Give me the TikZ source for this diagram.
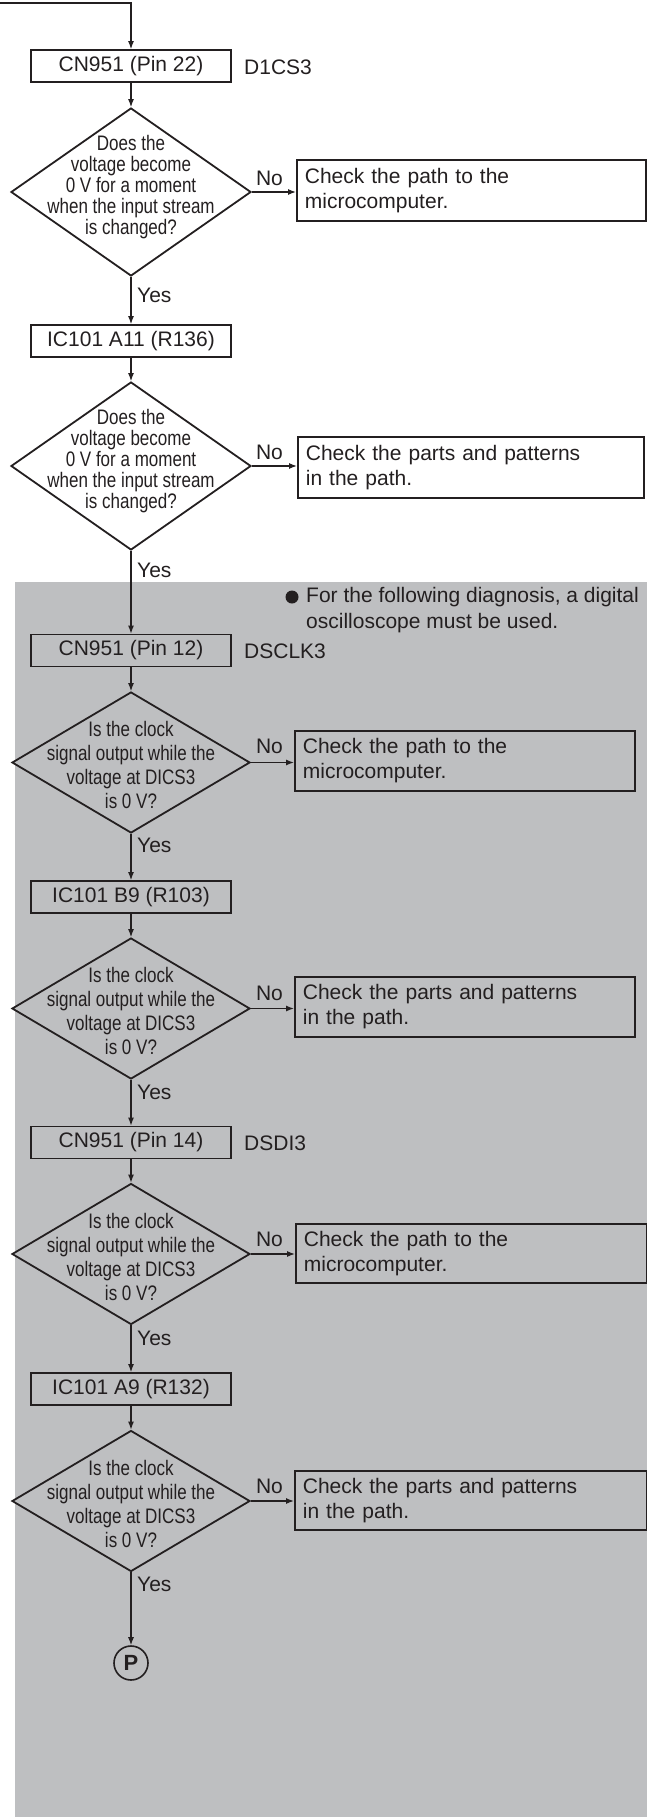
\documentclass[tikz,border=0pt]{standalone}
\usepackage{fontspec}
\setmainfont{Liberation Sans}
\newfontfamily\cond[FakeStretch=0.81]{Liberation Sans}
\usetikzlibrary{shapes.geometric,arrows.meta}
\definecolor{panel}{RGB}{190,191,193}
\definecolor{ink}{RGB}{35,31,32}
\begin{document}
\begin{tikzpicture}[x=1pt,y=-1pt,
  every node/.style={text=ink, font=\fontsize{21}{25}\selectfont},
  stepbox/.style={draw=ink, line width=1.8pt, minimum width=200pt, minimum height=32pt, inner sep=0pt},
  decision/.style={draw=ink, line width=1.8pt, diamond, inner sep=0pt, minimum width=240pt, minimum height=168pt},
  decisionb/.style={decision, minimum width=238pt, minimum height=141pt},
  qtext/.style={font=\cond\fontsize{21}{21}\selectfont, align=center, inner sep=0pt},
  qtextb/.style={font=\cond\fontsize{21}{24}\selectfont, align=center, inner sep=0pt},
  result/.style={draw=ink, line width=1.8pt, anchor=west, align=left, inner xsep=8pt, inner ysep=0pt},
  conn/.style={draw=ink, line width=1.2pt, -{Latex[length=8pt,width=6pt]}},
  lbl/.style={inner sep=0pt},
  sig/.style={inner sep=0pt, anchor=west}
]
\useasboundingbox (0,0) rectangle (647,1817);
\fill[panel] (14.5,582) rectangle (647,1817);

% first block
\coordinate (start) at (0,3);
\node[stepbox] (b1) at (131,66) {CN951 (Pin 22)};
\node[sig] (s1) at (244,67) {D1CS3};
\node[decision] (d1) at (131,192) {};
\node[qtext] (q1) at (131,187) {Does the\\voltage become\\0 V for a moment\\when the input stream\\is changed?};
\node[result, text width=333pt, minimum height=61pt] (r1) at (296,190.5) {Check the path to the\\microcomputer.};
\node[lbl] (n1) at (269.5,178) {No};
\node[lbl, anchor=west] (y1) at (137,295) {Yes};

\node[stepbox] (b2) at (131,341) {IC101 A11 (R136)};
\node[decision] (d2) at (131,466) {};
\node[qtext] (q2) at (131,461) {Does the\\voltage become\\0 V for a moment\\when the input stream\\is changed?};
\node[result, text width=330pt, minimum height=61pt] (r2) at (297,467.5) {Check the parts and patterns\\in the path.};
\node[lbl] (n2) at (269.5,452) {No};
\node[lbl, anchor=west] (y2) at (137,570) {Yes};

% gray block
\fill[ink] (292,597) circle (6.5);
\node[inner sep=0pt, anchor=west, align=left, font=\fontsize{21}{26}\selectfont] (note) at (306,610) {For the following diagnosis, a digital\\oscilloscope must be used.};

\node[stepbox] (b3) at (131,650.5) {CN951 (Pin 12)};
\node[sig] (s3) at (244,651) {DSCLK3};
\node[decisionb] (d3) at (131,762.5) {};
\node[qtextb] (q3) at (131,765) {Is the clock\\signal output while the\\voltage at DICS3\\is 0 V?};
\node[result, text width=324pt, minimum height=60pt] (r3) at (294,761) {Check the path to the\\microcomputer.};
\node[lbl] (n3) at (269.5,746) {No};
\node[lbl, anchor=west] (y3) at (137,845) {Yes};

\node[stepbox] (b4) at (131,897) {IC101 B9 (R103)};
\node[decisionb] (d4) at (131,1008.5) {};
\node[qtextb] (q4) at (131,1011) {Is the clock\\signal output while the\\voltage at DICS3\\is 0 V?};
\node[result, text width=324pt, minimum height=60pt] (r4) at (294,1007) {Check the parts and patterns\\in the path.};
\node[lbl] (n4) at (269.5,993) {No};
\node[lbl, anchor=west] (y4) at (137,1092) {Yes};

\node[stepbox] (b5) at (131,1142.5) {CN951 (Pin 14)};
\node[sig] (s5) at (244,1143) {DSDI3};
\node[decisionb] (d5) at (131,1254) {};
\node[qtextb] (q5) at (131,1256.5) {Is the clock\\signal output while the\\voltage at DICS3\\is 0 V?};
\node[result, text width=335pt, minimum height=59pt] (r5) at (295,1253.5) {Check the path to the\\microcomputer.};
\node[lbl] (n5) at (269.5,1239) {No};
\node[lbl, anchor=west] (y5) at (137,1338) {Yes};

\node[stepbox] (b6) at (131,1389) {IC101 A9 (R132)};
\node[decisionb] (d6) at (131,1501) {};
\node[qtextb] (q6) at (131,1503.5) {Is the clock\\signal output while the\\voltage at DICS3\\is 0 V?};
\node[result, text width=336pt, minimum height=59pt] (r6) at (294,1500.5) {Check the parts and patterns\\in the path.};
\node[lbl] (n6) at (269.5,1486) {No};
\node[lbl, anchor=west] (y6) at (137,1584) {Yes};

\node[draw=ink, line width=1.6pt, circle, minimum size=34pt, inner sep=0pt, font=\bfseries\fontsize{22}{22}\selectfont] (P) at (131,1663) {P};

% connectors
\draw[conn] (start) -| (b1.north);
\draw[conn] (b1) -- (d1.north);
\draw[conn] (d1.east) -- (d1.east -| r1.west);
\draw[conn] (d1.south) -- (b2.north);
\draw[conn] (b2) -- (d2.north);
\draw[conn] (d2.east) -- (d2.east -| r2.west);
\draw[conn] (d2.south) -- (b3.north);
\draw[conn] (b3) -- (d3.north);
\draw[conn] (d3.east) -- (d3.east -| r3.west);
\draw[conn] (d3.south) -- (b4.north);
\draw[conn] (b4) -- (d4.north);
\draw[conn] (d4.east) -- (d4.east -| r4.west);
\draw[conn] (d4.south) -- (b5.north);
\draw[conn] (b5) -- (d5.north);
\draw[conn] (d5.east) -- (d5.east -| r5.west);
\draw[conn] (d5.south) -- (b6.north);
\draw[conn] (b6) -- (d6.north);
\draw[conn] (d6.east) -- (d6.east -| r6.west);
\draw[conn] (d6.south) -- (P.north);
\end{tikzpicture}
\end{document}
